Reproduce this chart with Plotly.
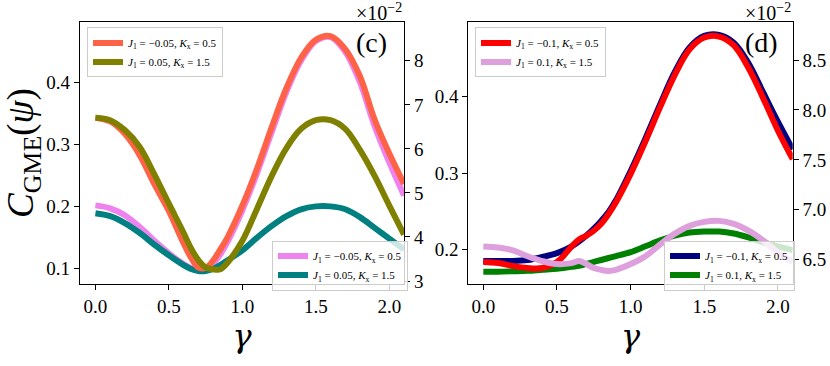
import plotly.graph_objects as go

# shared gamma grid
gamma = [0.0, 0.1, 0.2, 0.3, 0.4, 0.5, 0.6, 0.65, 0.7, 0.75, 0.8, 0.85, 0.9,
         1.0, 1.1, 1.2, 1.3, 1.4, 1.5, 1.6, 1.7, 1.8, 1.9, 2.0, 2.1]

# panel (c): left axis
c_salmon = [0.343, 0.337, 0.317, 0.283, 0.236, 0.192, 0.140, 0.117, 0.101, 0.100, 0.112, 0.130, 0.150,
            0.201, 0.261, 0.328, 0.391, 0.440, 0.469, 0.475, 0.454, 0.410, 0.340, 0.285, 0.236]
c_olive = [0.343, 0.339, 0.323, 0.296, 0.252, 0.204, 0.157, 0.132, 0.113, 0.101, 0.098, 0.098, 0.109,
           0.144, 0.196, 0.249, 0.294, 0.325, 0.339, 0.339, 0.325, 0.291, 0.249, 0.201, 0.154]
# panel (c): right axis (x 1e-2)
c_violet = [4.717, 4.651, 4.495, 4.229, 3.918, 3.629, 3.384, 3.295, 3.251, 3.273, 3.384, 3.606, 3.895,
            4.606, 5.451, 6.384, 7.295, 8.006, 8.451, 8.540, 8.206, 7.517, 6.517, 5.695, 4.940]
c_teal = [4.540, 4.473, 4.317, 4.095, 3.829, 3.584, 3.362, 3.273, 3.229, 3.229, 3.273, 3.362, 3.473,
          3.695, 3.984, 4.251, 4.473, 4.629, 4.695, 4.695, 4.629, 4.451, 4.206, 3.962, 3.717]

# panel (d): left axis
d_red = [0.1837, 0.1824, 0.1786, 0.1760, 0.1760, 0.1837, 0.2042, 0.2132, 0.2183, 0.2247, 0.2337, 0.2465, 0.2619,
         0.2991, 0.3414, 0.3863, 0.4286, 0.4619, 0.4773, 0.4786, 0.4670, 0.4376, 0.3978, 0.3555, 0.3183]
d_plum = [0.2042, 0.2029, 0.1991, 0.1914, 0.1850, 0.1811, 0.1824, 0.1850, 0.1811, 0.1760, 0.1735, 0.1722, 0.1735,
          0.1811, 0.1914, 0.2068, 0.2209, 0.2311, 0.2363, 0.2376, 0.2337, 0.2247, 0.2119, 0.1965, 0.1837]
# panel (d): right axis (x 1e-2)
d_navy = [6.487, 6.487, 6.487, 6.497, 6.527, 6.566, 6.634, 6.684, 6.742, 6.811, 6.889, 6.978, 7.095,
          7.389, 7.713, 8.056, 8.380, 8.625, 8.742, 8.752, 8.674, 8.468, 8.174, 7.880, 7.605]
d_green = [6.380, 6.380, 6.384, 6.389, 6.399, 6.409, 6.429, 6.438, 6.458, 6.478, 6.497, 6.517, 6.536,
           6.576, 6.634, 6.693, 6.742, 6.772, 6.782, 6.782, 6.762, 6.723, 6.674, 6.634, 6.595]

FONT = "Liberation Serif, Times New Roman, serif"
LW = 6


def lab(j, k):
    return f"<i>J</i><sub>1</sub> = {j}, <i>K</i><sub>x</sub> = {k}"


fig = go.Figure()

# right-axis traces first (drawn underneath)
fig.add_trace(go.Scatter(x=gamma, y=c_violet, xaxis="x", yaxis="y", name=lab("−0.05", "0.5"),
                         line=dict(color="violet", width=LW, shape="spline"), legend="legend2"))
fig.add_trace(go.Scatter(x=gamma, y=c_teal, xaxis="x", yaxis="y", name=lab("0.05", "1.5"),
                         line=dict(color="teal", width=LW, shape="spline"), legend="legend2"))
fig.add_trace(go.Scatter(x=gamma, y=c_salmon, xaxis="x", yaxis="y2", name=lab("−0.05", "0.5"),
                         line=dict(color="tomato", width=LW, shape="spline"), legend="legend"))
fig.add_trace(go.Scatter(x=gamma, y=c_olive, xaxis="x", yaxis="y2", name=lab("0.05", "1.5"),
                         line=dict(color="olive", width=LW, shape="spline"), legend="legend"))

fig.add_trace(go.Scatter(x=gamma, y=d_navy, xaxis="x2", yaxis="y3", name=lab("−0.1", "0.5"),
                         line=dict(color="navy", width=LW, shape="spline"), legend="legend4"))
fig.add_trace(go.Scatter(x=gamma, y=d_green, xaxis="x2", yaxis="y3", name=lab("0.1", "1.5"),
                         line=dict(color="green", width=LW, shape="spline"), legend="legend4"))
fig.add_trace(go.Scatter(x=gamma, y=d_red, xaxis="x2", yaxis="y4", name=lab("−0.1", "0.5"),
                         line=dict(color="red", width=LW, shape="spline"), legend="legend3"))
fig.add_trace(go.Scatter(x=gamma, y=d_plum, xaxis="x2", yaxis="y4", name=lab("0.1", "1.5"),
                         line=dict(color="plum", width=LW, shape="spline"), legend="legend3"))

ydom = [1 - 290 / 366, 1 - 23 / 366]
ax = dict(showgrid=False, zeroline=False, showline=True, linecolor="black", linewidth=1.2,
          ticks="outside", ticklen=5, tickcolor="black", tickfont=dict(size=19, family=FONT, color="black"))
xt = dict(tickvals=[0, 0.5, 1.0, 1.5, 2.0], ticktext=["0.0", "0.5", "1.0", "1.5", "2.0"])
gtitle = dict(text="<i>γ</i>", font=dict(size=32, family="DejaVu Serif, serif", color="black"), standoff=8)

fig.update_layout(
    xaxis=dict(**ax, **xt, domain=[80 / 830, 404 / 830], range=[-0.105, 2.1], mirror=True,
               anchor="y", title=gtitle),
    yaxis=dict(**ax, domain=ydom, range=[2.94, 8.87], side="right", anchor="x",
               tickvals=[3, 4, 5, 6, 7, 8]),
    yaxis2=dict(**ax, range=[0.0747, 0.497], side="left", overlaying="y", anchor="x",
                tickvals=[0.1, 0.2, 0.3, 0.4], ticktext=["0.1", "0.2", "0.3", "0.4"],
                title=dict(text="<i>C</i><sub>GME</sub>(<i>ψ</i>)",
                           font=dict(size=37, family=FONT, color="black"), standoff=6)),
    xaxis2=dict(**ax, **xt, domain=[468.3 / 830, 792.7 / 830], range=[-0.102, 2.1], mirror=True,
                anchor="y3", title=gtitle),
    yaxis3=dict(**ax, domain=ydom, range=[6.26, 8.876], side="right", anchor="x2",
                tickvals=[6.5, 7.0, 7.5, 8.0, 8.5], ticktext=["6.5", "7.0", "7.5", "8.0", "8.5"]),
    yaxis4=dict(**ax, range=[0.1555, 0.497], side="left", overlaying="y3", anchor="x2",
                tickvals=[0.2, 0.3, 0.4], ticktext=["0.2", "0.3", "0.4"]),
    width=830, height=366,
    margin=dict(l=0, r=0, t=0, b=0),
    paper_bgcolor="white", plot_bgcolor="white",
    font=dict(family=FONT, color="black"),
)

leg = dict(font=dict(size=11, family=FONT, color="black"), bgcolor="rgba(255,255,255,0.8)",
           bordercolor="#cccccc", borderwidth=1, xanchor="left", yanchor="top",
           tracegroupgap=0, itemwidth=30)
fig.update_layout(
    legend=dict(**leg, x=87 / 830, y=1 - 28 / 366),
    legend2=dict(**leg, x=272 / 830, y=1 - 246 / 366),
    legend3=dict(**leg, x=475 / 830, y=1 - 28 / 366),
    legend4=dict(**leg, x=664 / 830, y=1 - 246 / 366),
)

for xr in (404 / 830, 792.7 / 830):
    fig.add_annotation(text="×10<sup>−2</sup>", xref="paper", yref="paper", x=xr, y=1,
                       xanchor="right", yanchor="top", yshift=2, showarrow=False,
                       font=dict(size=20, family=FONT))
fig.add_annotation(text="(c)", xref="paper", yref="paper", x=389 / 830, y=1 - 43 / 366,
                   xanchor="right", yanchor="middle", showarrow=False, font=dict(size=28, family=FONT))
fig.add_annotation(text="(d)", xref="paper", yref="paper", x=780 / 830, y=1 - 43 / 366,
                   xanchor="right", yanchor="middle", showarrow=False, font=dict(size=28, family=FONT))

fig.write_html("out.html", config={"displayModeBar": False},
               post_script="document.body.style.margin='0px';")
